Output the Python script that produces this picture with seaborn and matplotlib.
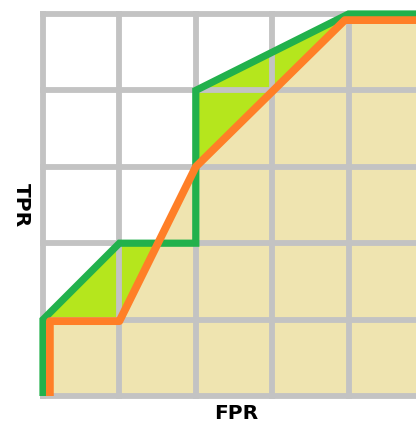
import matplotlib
matplotlib.use("Agg")
import matplotlib.pyplot as plt
import seaborn as sns
import pandas as pd

# ROC curves (in grid units: 5 cells per axis)
green_fpr = [0, 0, 1, 2, 2, 4, 5.5]
green_tpr = [0, 1, 2, 2, 4, 5, 5]
orange_fpr = [0.09, 0.09, 1, 2, 3.95, 5.5]
orange_tpr = [0, 0.98, 0.98, 3, 4.92, 4.92]
grid_ticks = [0, 1, 2, 3, 4, 5]

GREEN = "#22B14C"
ORANGE = "#FF7F27"
LIME = "#B5E61D"
BEIGE = "#EFE4B0"
GRID = "#C3C3C3"

sns.set_theme(style="white")
plt.rcParams["font.family"] = ["DejaVu Sans"]

W, H, DPI = 416, 427, 100
fig = plt.figure(figsize=(W / DPI, H / DPI), dpi=DPI)

unit = 76.4
x0_px, y0_px = 43, 397
pad = 0.05
xmin, xmax = -pad, (W - x0_px) / unit
ymin, ymax = -pad, 5 + pad
left = (x0_px + xmin * unit) / W
bottom = (H - y0_px + ymin * unit) / H
ax = fig.add_axes([left, bottom, 1 - left, (ymax - ymin) * unit / H])
ax.set_xlim(xmin, xmax)
ax.set_ylim(ymin, ymax)

green_df = pd.DataFrame({"FPR": green_fpr, "TPR": green_tpr})
orange_df = pd.DataFrame({"FPR": orange_fpr, "TPR": orange_tpr})

# area under the green curve, then area under the orange curve on top
ax.fill(list(green_df.FPR) + [green_df.FPR.iloc[-1], 0],
        list(green_df.TPR) + [0, 0], color=LIME, lw=0, zorder=1)
ax.fill(list(orange_df.FPR) + [orange_df.FPR.iloc[-1], orange_df.FPR.iloc[0]],
        list(orange_df.TPR) + [0, 0], color=BEIGE, lw=0, zorder=1.5)

# grid: half a line width past the outer cells so the corners close
gw = 4.2
half = gw / 72 * DPI / 2 / unit
for t in grid_ticks:
    ax.plot([t, t], [-half, 5 + half], color=GRID, lw=gw, zorder=2,
            solid_capstyle="butt")
    ax.plot([-half, xmax + 1], [t, t], color=GRID, lw=gw, zorder=2,
            solid_capstyle="butt")

sns.lineplot(data=green_df, x="FPR", y="TPR", sort=False, estimator=None,
             color=GREEN, lw=5.2, ax=ax, zorder=3,
             solid_capstyle="butt", solid_joinstyle="miter")
sns.lineplot(data=orange_df, x="FPR", y="TPR", sort=False, estimator=None,
             color=ORANGE, lw=5.6, ax=ax, zorder=4,
             solid_capstyle="butt", solid_joinstyle="round")

ax.set_xlim(xmin, xmax)
ax.set_ylim(ymin, ymax)
ax.set_xticks([])
ax.set_yticks([])
ax.set_xlabel("")
ax.set_ylabel("")
for s in ax.spines.values():
    s.set_visible(False)
ax.patch.set_alpha(0)

fig.text(236 / W, 1 - 414 / H, "FPR", ha="center", va="center",
         fontsize=14.5, fontweight="bold", color="black")
fig.text(21 / W, 1 - 205 / H, "TPR", ha="center", va="center", rotation=-90,
         fontsize=14.5, fontweight="bold", color="black")

fig.savefig("out.png", dpi=DPI, facecolor="white")
